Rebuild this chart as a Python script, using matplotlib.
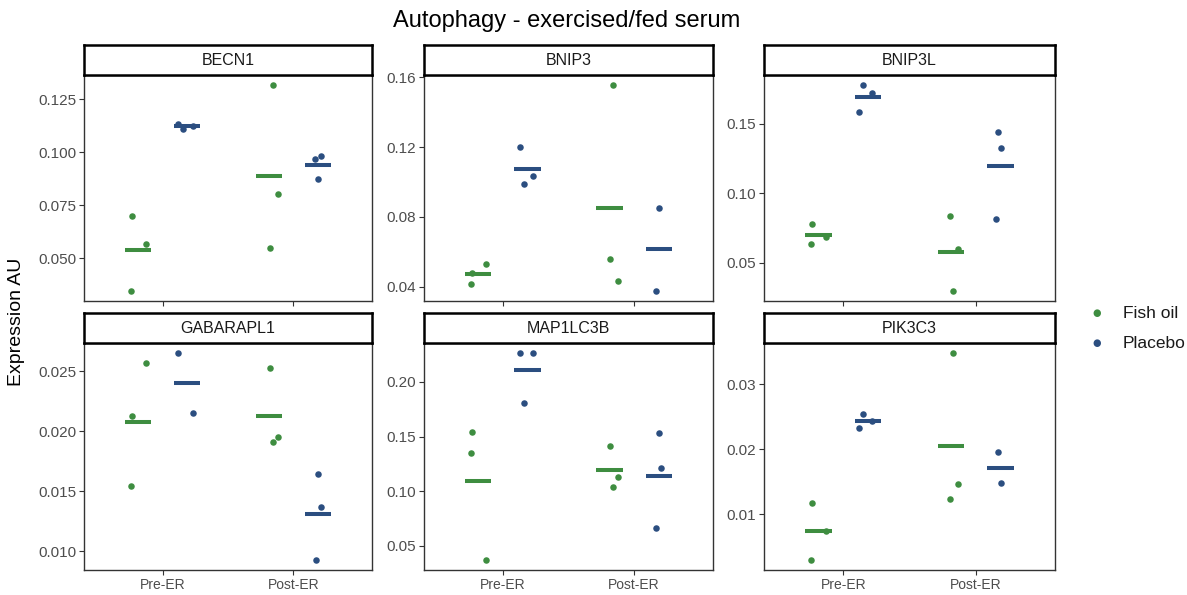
import numpy as np
import matplotlib.pyplot as plt
from matplotlib.ticker import FixedLocator, FormatStrFormatter

plt.rcParams['font.family'] = ['Liberation Sans', 'DejaVu Sans']

# Expression values per gene, ordered as
# [Fish oil Pre-ER, Placebo Pre-ER, Fish oil Post-ER, Placebo Post-ER]
genes = ["BECN1", "BNIP3", "BNIP3L", "GABARAPL1", "MAP1LC3B", "PIK3C3"]
groups = ["Fish oil", "Placebo"]
times = ["Pre-ER", "Post-ER"]

becn1 = [[0.0700, 0.0570, 0.0348], [0.1133, 0.1112, 0.1122],
         [0.1316, 0.0802, 0.0550], [0.0981, 0.0970, 0.0875]]
bnip3 = [[0.0415, 0.0529, 0.0476], [0.1203, 0.0989, 0.1034],
         [0.1554, 0.0561, 0.0432], [0.0852, 0.0377]]
bnip3l = [[0.0778, 0.0634, 0.0682], [0.1778, 0.1722, 0.1586],
          [0.0835, 0.0596, 0.0297], [0.1443, 0.1325, 0.0816]]
gabarapl1 = [[0.0257, 0.0213, 0.0154], [0.0265, 0.0215],
             [0.0253, 0.0191, 0.0195], [0.0164, 0.0137, 0.0093]]
map1lc3b = [[0.1546, 0.1350, 0.0374], [0.2261, 0.2261, 0.1807],
            [0.1411, 0.1126, 0.1040], [0.1534, 0.1215, 0.0660]]
pik3c3 = [[0.0117, 0.0030, 0.0074], [0.0255, 0.0244, 0.0233],
          [0.0348, 0.0146, 0.0123], [0.0196, 0.0148]]

# horizontal jitter of each point (x units), same layout as the values
becn1_jit = [[-0.044, 0.059, -0.053], [-0.071, -0.033, 0.044],
             [0.028, 0.069, 0.010], [0.023, -0.023, 0.002]]
bnip3_jit = [[-0.055, 0.057, -0.045], [-0.060, -0.030, 0.039],
             [0.024, 0.004, 0.065], [0.000, -0.021]]
bnip3l_jit = [[-0.047, -0.057, 0.054], [-0.039, 0.032, -0.069],
              [-0.007, 0.056, 0.014], [-0.017, 0.004, -0.036]]
gabarapl1_jit = [[0.059, -0.044, -0.053], [-0.071, 0.043],
                 [0.010, 0.028, 0.071], [0.002, 0.023, -0.018]]
map1lc3b_jit = [[-0.045, -0.055, 0.057], [-0.060, 0.039, -0.030],
                [0.004, 0.065, 0.024], [0.000, 0.019, -0.021]]
pik3c3_jit = [[-0.047, -0.057, 0.054], [-0.039, 0.032, -0.069],
              [0.014, 0.056, -0.007], [-0.017, 0.004]]

gene_values = [becn1, bnip3, bnip3l, gabarapl1, map1lc3b, pik3c3]
gene_jitter = [becn1_jit, bnip3_jit, bnip3l_jit, gabarapl1_jit, map1lc3b_jit, pik3c3_jit]

y_ticks = [
    [0.050, 0.075, 0.100, 0.125],
    [0.04, 0.08, 0.12, 0.16],
    [0.05, 0.10, 0.15],
    [0.010, 0.015, 0.020, 0.025],
    [0.05, 0.10, 0.15, 0.20],
    [0.01, 0.02, 0.03],
]
y_fmt = ["%.3f", "%.2f", "%.2f", "%.3f", "%.2f", "%.2f"]

colors = {"Fish oil": "#3e8d40", "Placebo": "#2b4e80"}
dodge = 0.1875

W, H = 1187, 595
fig = plt.figure(figsize=(W / 100, H / 100), dpi=100)

# panel boxes in pixels: (left, right) per column, (strip_top, panel_top, panel_bottom) per row
cols = [(84, 372), (424, 713), (764, 1055)]
rows = [(45, 75, 301), (313, 343, 570)]


def px_axes(x0, y0, x1, y1):
    return fig.add_axes([x0 / W, 1 - y1 / H, (x1 - x0) / W, (y1 - y0) / H])


for k, gene in enumerate(genes):
    r, c = divmod(k, 3)
    x0, x1 = cols[c]
    st, pt, pb = rows[r]

    ax = px_axes(x0, pt, x1, pb)
    data = gene_values[k]
    jit = gene_jitter[k]
    for i in range(4):
        t, g = divmod(i, 2)
        grp = groups[g]
        xc = (t + 1) + (-dodge if g == 0 else dodge)
        vals = np.array(data[i])
        xs = xc + np.array(jit[i])
        ax.scatter(xs, vals, s=22, color=colors[grp], linewidths=0, zorder=3)
        ax.plot([xc - 0.1, xc + 0.1], [vals.mean()] * 2, color=colors[grp],
                lw=2.9, solid_capstyle='butt', zorder=2)

    ax.set_xlim(0.4, 2.6)
    ax.margins(y=0.05)
    ax.yaxis.set_major_locator(FixedLocator(y_ticks[k]))
    ax.yaxis.set_major_formatter(FormatStrFormatter(y_fmt[k]))
    ax.set_xticks([1, 2])
    if r == 1:
        ax.set_xticklabels(times)
    else:
        ax.set_xticklabels([])
    ax.tick_params(axis='both', length=3.5, width=0.8, color='#333333',
                   labelcolor='#4d4d4d', pad=2)
    ax.tick_params(axis='y', labelsize=11)
    ax.tick_params(axis='x', labelsize=10)
    for sp in ax.spines.values():
        sp.set_color('#333333')
        sp.set_linewidth(1.0)

    sx = px_axes(x0, st, x1, pt)
    sx.set_xticks([])
    sx.set_yticks([])
    for sp in sx.spines.values():
        sp.set_color('black')
        sp.set_linewidth(1.8)
    sx.text(0.5, 0.48, gene, ha='center', va='center', fontsize=11.5,
            color='#1a1a1a', transform=sx.transAxes)

fig.text(567 / W, 1 - 21 / H, "Autophagy - exercised/fed serum",
         ha='center', va='center', fontsize=17)
fig.text(17 / W, 1 - 322 / H, "Expression AU", ha='center', va='center',
         rotation=90, fontsize=14)

# legend
for j, grp in enumerate(groups):
    y = 313 + j * 30
    fig.text(1097 / W, 1 - y / H, u"\u25CF", color=colors[grp], fontsize=7,
             ha='center', va='center', family='DejaVu Sans')
    fig.text(1123 / W, 1 - y / H, grp, fontsize=12.5, ha='left', va='center',
             color='#1a1a1a')

fig.savefig("out.png", dpi=100)
